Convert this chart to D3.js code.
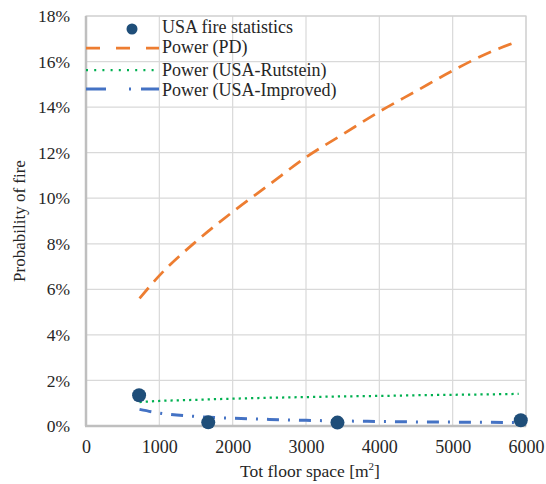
<!DOCTYPE html>
<html><head><meta charset="utf-8">
<script src="https://cdn.jsdelivr.net/npm/d3@7"></script>
<style>body{margin:0;background:#fff}svg{display:block}svg text{font-family:"Liberation Serif","Times New Roman",serif !important;fill:#262626}</style>
</head><body><svg id="c" width="546" height="484"></svg>
<script>
const xTicks = [0,1000,2000,3000,4000,5000,6000];
const yTicks = [0,0.02,0.04,0.06,0.08,0.10,0.12,0.14,0.16,0.18];
const statX = [724,1667,3429,5929];
const statY = [0.0135,0.0016,0.0015,0.0025];
const curveX = [730,1000,1500,2000,2500,3000,3500,4000,4500,5000,5500,5900];
const pdY = [0.056,0.066,0.081,0.094,0.106,0.118,0.128,0.138,0.147,0.156,0.164,0.169];
const rutY = [0.0105,0.011,0.0115,0.012,0.0124,0.0127,0.013,0.0132,0.0135,0.0137,0.0139,0.0141];
const impY = [0.0073,0.0057,0.0042,0.0034,0.0029,0.0025,0.0022,0.0020,0.0018,0.0017,0.0016,0.0015];
const legendLabels = ["USA fire statistics","Power (PD)","Power (USA-Rutstein)","Power (USA-Improved)"];

const svg = d3.select("#c");
const L=86,R=526,T=16,B=426;
const x = d3.scaleLinear().domain([0,6000]).range([L,R]);
const y = d3.scaleLinear().domain([0,0.18]).range([B,T]);

svg.append("g").selectAll("line").data(yTicks).join("line")
  .attr("x1",L).attr("x2",R).attr("y1",d=>y(d)).attr("y2",d=>y(d))
  .attr("stroke","#d9d9d9").attr("stroke-width",1.2);
svg.append("g").selectAll("line").data(xTicks).join("line")
  .attr("y1",T).attr("y2",B).attr("x1",d=>x(d)).attr("x2",d=>x(d))
  .attr("stroke","#d9d9d9").attr("stroke-width",1.2);
svg.append("rect").attr("x",L).attr("y",T).attr("width",R-L).attr("height",B-T)
  .attr("fill","none").attr("stroke","#d0d0d0").attr("stroke-width",1.2);
svg.append("line").attr("x1",L).attr("x2",L).attr("y1",T).attr("y2",B).attr("stroke","#bfbfbf").attr("stroke-width",2.5);
svg.append("line").attr("x1",L-1).attr("x2",R).attr("y1",B).attr("y2",B).attr("stroke","#bfbfbf").attr("stroke-width",2.5);

const yAxis = d3.axisLeft(y).tickValues(yTicks).tickFormat(d=>Math.round(d*100)+"%").tickSize(0).tickPadding(16);
const gy = svg.append("g").attr("transform",`translate(${L},0)`).call(yAxis);
gy.attr("font-family",null).attr("font-size",null);
gy.select(".domain").remove();
gy.selectAll("text").style("font-size","17.5px");
const xAxis = d3.axisBottom(x).tickValues(xTicks).tickFormat(d3.format("d")).tickSize(0).tickPadding(14);
const gx = svg.append("g").attr("transform",`translate(0,${B})`).call(xAxis);
gx.attr("font-family",null).attr("font-size",null);
gx.select(".domain").remove();
gx.selectAll("text").style("font-size","18px");

svg.append("text").attr("transform","translate(25,221) rotate(-90)").attr("text-anchor","middle")
  .style("font-size","17px").text("Probability of fire");
const xt = svg.append("text").attr("x",310).attr("y",477).attr("text-anchor","middle").style("font-size","17.5px");
xt.append("tspan").text("Tot floor space [m");
xt.append("tspan").attr("dy",-7).style("font-size","11px").text("2");
xt.append("tspan").attr("dy",7).text("]");

const line = d3.line().x((d,i)=>x(curveX[i])).y(d=>y(d)).curve(d3.curveMonotoneX);
svg.append("path").attr("d",line(pdY)).attr("fill","none").attr("stroke","#ED7D31").attr("stroke-width",2.75).attr("stroke-dasharray","14 8");
svg.append("path").attr("d",line(rutY)).attr("fill","none").attr("stroke","#00B050").attr("stroke-width",2.25).attr("stroke-dasharray","2.2 4");
svg.append("path").attr("d",line(impY)).attr("fill","none").attr("stroke","#4472C4").attr("stroke-width",3).attr("stroke-dasharray","12 9 2 9");

svg.append("g").selectAll("circle").data(statX).join("circle")
  .attr("cx",d=>x(d)).attr("cy",(d,i)=>y(statY[i])).attr("r",7).attr("fill","#1F4E79");

const lg = svg.append("g");
const ly = [29,48,70,89];
lg.append("circle").attr("cx",132).attr("cy",ly[0]).attr("r",5.5).attr("fill","#1F4E79");
lg.append("line").attr("x1",86).attr("x2",159).attr("y1",ly[1]).attr("y2",ly[1]).attr("stroke","#ED7D31").attr("stroke-width",2.75).attr("stroke-dasharray","14 16");
lg.append("line").attr("x1",86).attr("x2",159).attr("y1",ly[2]).attr("y2",ly[2]).attr("stroke","#00B050").attr("stroke-width",2.25).attr("stroke-dasharray","2 6.2");
lg.append("line").attr("x1",86).attr("x2",159).attr("y1",ly[3]).attr("y2",ly[3]).attr("stroke","#4472C4").attr("stroke-width",3).attr("stroke-dasharray","20 23 2 10");
const lb = [33,53,75.5,96];
lg.selectAll("text").data(legendLabels).join("text").attr("x",162).attr("y",(d,i)=>lb[i])
  .style("font-size","18px").text(d=>d);
</script></body></html>
